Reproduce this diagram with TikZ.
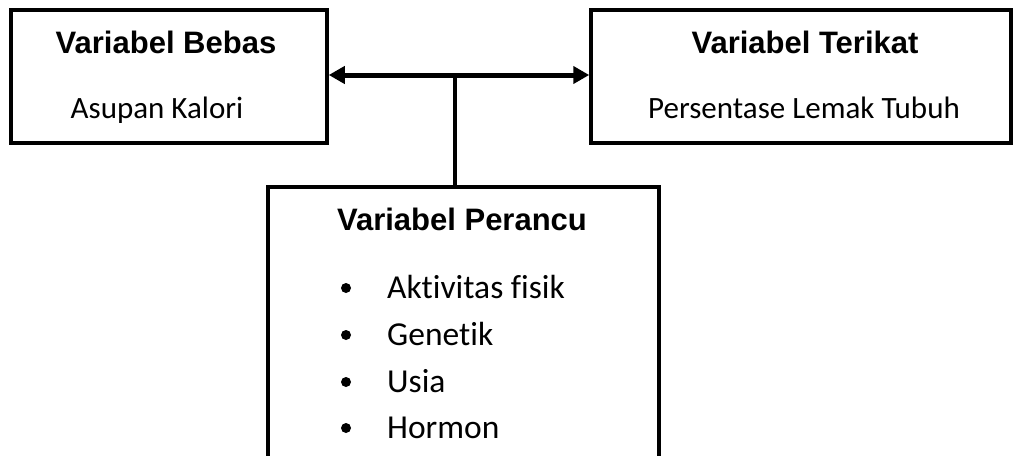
\documentclass[tikz,border=0pt]{standalone}
\usepackage{fontspec}
\setmainfont{Carlito}[Ligatures=NoCommon]
\newfontfamily\headfont{Liberation Sans}
\usetikzlibrary{arrows.meta}
\tikzset{
  varbox/.style={draw, line width=3.5pt, rectangle, inner sep=0pt},
  headtxt/.style={font=\headfont\bfseries\fontsize{31}{37}\selectfont, anchor=base, inner sep=0pt},
  bodytxt/.style={font=\fontsize{31}{37}\selectfont, anchor=base, inner sep=0pt},
  itemtxt/.style={font=\fontsize{33.5}{40}\selectfont, anchor=base west, inner sep=0pt},
  dot/.style={circle, fill=black, minimum size=10pt, inner sep=0pt},
  link/.style={line width=3.5pt},
  dlink/.style={line width=5pt, {Triangle[length=16pt,width=17pt]}-{Triangle[length=16pt,width=17pt]}}
}
\begin{document}
\begin{tikzpicture}[x=1pt,y=1pt]
\useasboundingbox (0,0) rectangle (1014,-455);
\fill[white] (0,0) rectangle (1014,-455);
% boxes
\node[varbox, minimum width=316pt, minimum height=133pt] (L) at (169,-76.5) {};
\node[varbox, minimum width=420pt, minimum height=133pt] (R) at (801,-76.5) {};
\node[varbox, minimum width=391pt, minimum height=300pt] (B) at (463.5,-337) {};
% texts
\node[headtxt] (Lt) at (166,-53) {Variabel Bebas};
\node[bodytxt] (Lb) at (157,-118) {Asupan Kalori};
\node[headtxt] (Rt) at (805,-53) {Variabel Terikat};
\node[bodytxt] (Rb) at (804,-118) {Persentase Lemak Tubuh};
\node[headtxt] (Bt) at (462,-230) {Variabel Perancu};
\node[dot] (d1) at (346,-288) {};
\node[dot] (d2) at (346,-335) {};
\node[dot] (d3) at (346,-382) {};
\node[dot] (d4) at (346,-428) {};
\node[itemtxt] (i1) at (387,-298) {Aktivitas fisik};
\node[itemtxt] (i2) at (387,-345) {Genetik};
\node[itemtxt] (i3) at (387,-392) {Usia};
\node[itemtxt] (i4) at (387,-438) {Hormon};
% connectors
\coordinate (m) at (455,-75);
\draw[dlink] (m -| L.east) -- (m -| R.west);
\draw[link] (m) -- (m |- B.north);
\end{tikzpicture}
\end{document}
